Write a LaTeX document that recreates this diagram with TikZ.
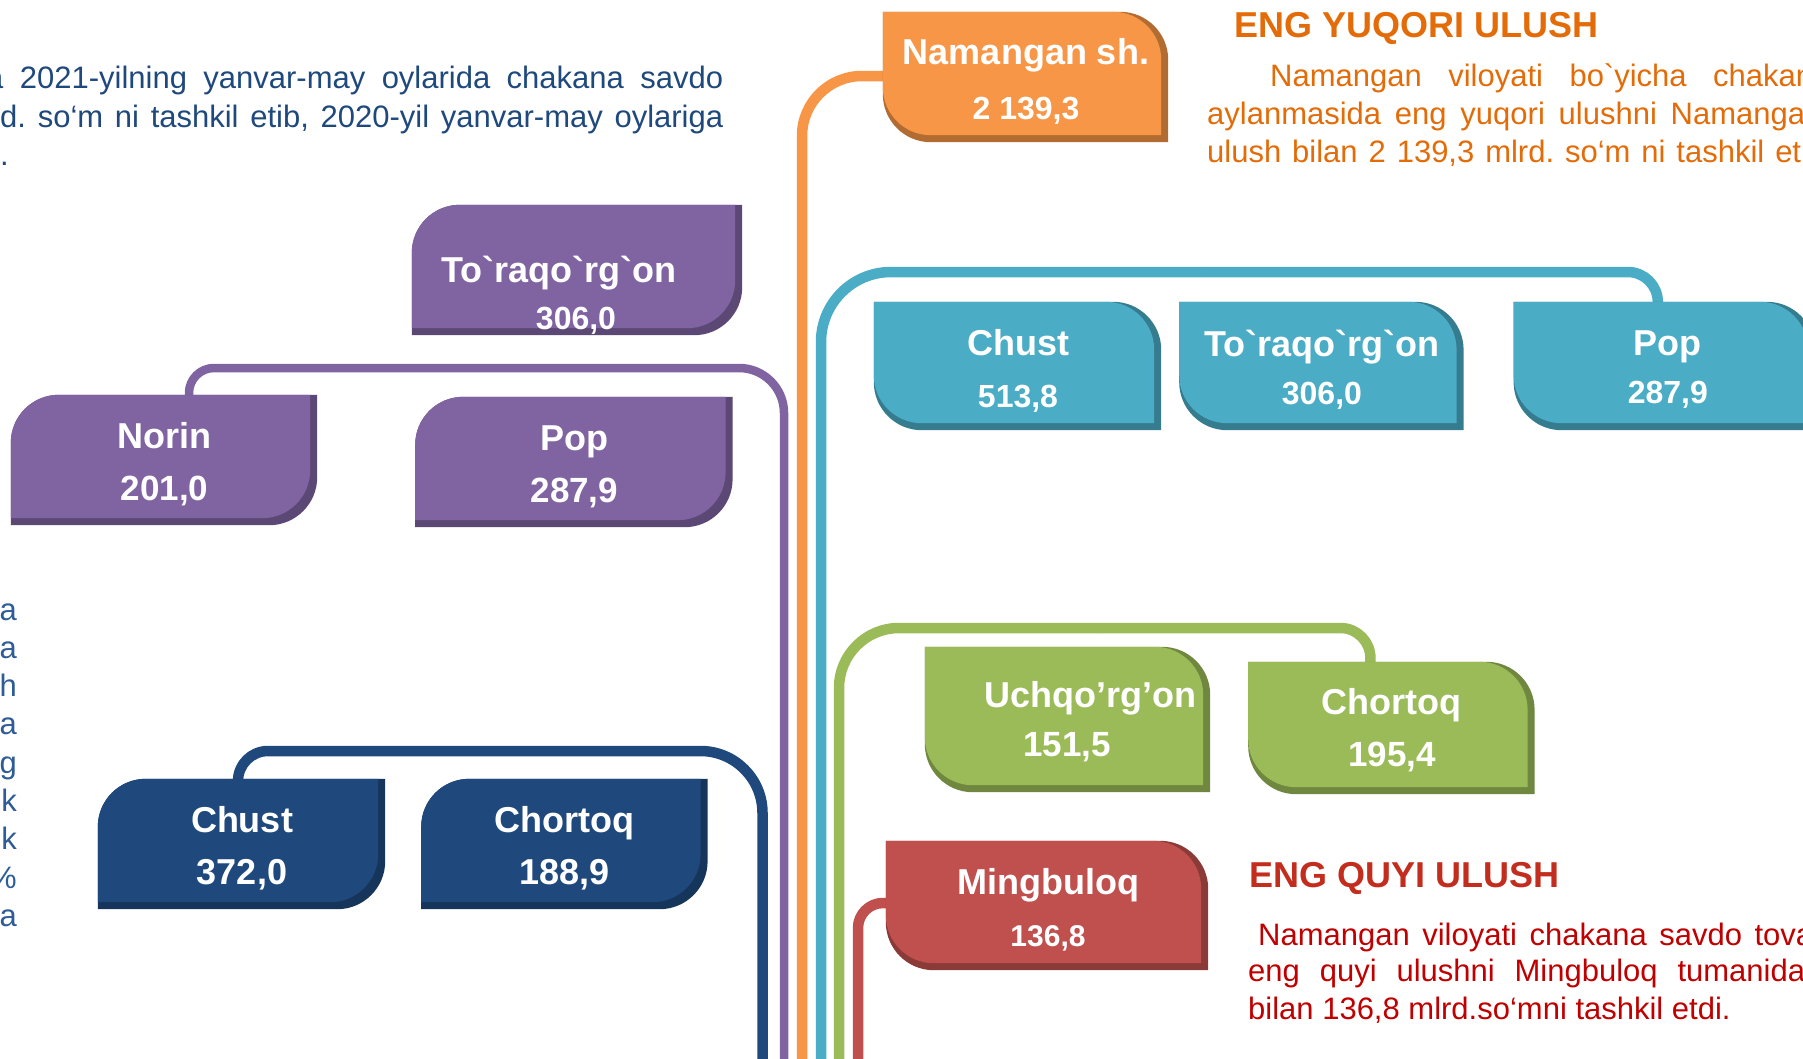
\documentclass[tikz,border=0pt]{standalone}
\usepackage{fontspec}
\newfontfamily\cardfont{Liberation Sans}
\usetikzlibrary{positioning, calc, backgrounds}
\frenchspacing

\definecolor{cardnavy}{RGB}{31,73,125}
\definecolor{cardpurp}{RGB}{128,100,162}
\definecolor{cardorng}{RGB}{247,150,70}
\definecolor{cardcyan}{RGB}{75,172,198}
\definecolor{cardgrn}{RGB}{155,187,89}
\definecolor{cardred}{RGB}{192,80,77}
\definecolor{introblue}{RGB}{31,73,125}
\definecolor{sideblue}{RGB}{46,92,150}
\definecolor{orngtext}{RGB}{227,108,9}
\definecolor{redtitle}{RGB}{195,45,30}
\definecolor{redtext}{RGB}{192,0,0}

\newcommand{\cardr}{48}
\newcommand{\cards}{7}
\newcommand{\cardval}[2][32]{{\fontsize{#1}{52}\selectfont #2}}

\begin{document}
\begin{tikzpicture}[x=1pt, y=-1pt,
    card/.style 2 args={rectangle, inner sep=0pt, minimum width=#1, minimum height=#2},
    cardtext/.style={text=white, align=center, inner sep=0pt, font=\cardfont\bfseries\fontsize{36}{52}\selectfont},
    para/.style={anchor=base west, inner sep=0pt, font=\cardfont\fontsize{31}{38}\selectfont},
    headline/.style={anchor=base west, inner sep=0pt, font=\cardfont\bfseries\fontsize{36}{40}\selectfont},
    side/.style={anchor=base east, inner sep=0pt, text=sideblue, font=\cardfont\fontsize{31}{38}\selectfont},
    link/.style={line width=10.5pt}
]
    \useasboundingbox (0,0) rectangle (1803,1058);

    % Top: city card
    \node[card={278pt}{123pt}] (naman) at (1022,73.5) {};
    \node[cardtext] (namanT) at ($(naman)+(4,8)$) {Namangan sh.\\[3pt]\cardval{2 139,3}};

    % Left: purple group
    \node[card={323pt}{123pt}] (torP) at (573.5,266.5) {};
    \node[cardtext] (torPT) at ($(torP)+(-14.5,28.5)$) {To`raqo`rg`on\\[-5pt]\hspace*{34pt}\cardval{306,0}};
    \node[card={299pt}{123pt}] (norin) at (160.5,456.5) {};
    \node[cardtext] (norinT) at ($(norin)+(4,8)$) {Norin\\\cardval[35]{201,0}};
    \node[card={310pt}{123pt}, right=105pt of norin, yshift=-2pt] (popP) {};
    \node[cardtext] (popPT) at ($(popP)+(4,8)$) {Pop\\\cardval[35]{287,9}};

    % Left: navy group
    \node[card={280pt}{123pt}] (chustN) at (238,840.5) {};
    \node[cardtext] (chustNT) at ($(chustN)+(4,8)$) {Chust\\\cardval[36]{372,0}};
    \node[card={279pt}{123pt}, right=43pt of chustN] (chortN) {};
    \node[cardtext] (chortNT) at ($(chortN)+(4,8)$) {Chortoq\\\cardval[36]{188,9}};

    % Right: cyan group
    \node[card={280pt}{121pt}] (chustC) at (1014,362.5) {};
    \node[cardtext] (chustCT) at ($(chustC)+(4,8)$) {Chust\\\cardval{513,8}};
    \node[card={277pt}{121pt}, right=25pt of chustC] (torC) {};
    \node[cardtext] (torCT) at ($(torC)+(4,7)$) {To`raqo`rg`on\\[-4pt]\cardval{306,0}};
    \node[card={294pt}{121pt}, right=57pt of torC] (popC) {};
    \node[cardtext] (popCT) at ($(popC)+(7,7)$) {Pop\\[-4pt]\cardval{287,9}};

    % Right: green group
    \node[card={278pt}{138pt}] (uchq) at (1064,716) {};
    \node[cardtext] (uchqT) at ($(uchq)+(26,5.5)$) {Uchqo’rg’on\\[-3pt]\hspace*{-46pt}\cardval[35]{151,5}};
    \node[card={279pt}{125pt}, right=45pt of uchq, yshift=-8.5pt] (chortG) {};
    \node[cardtext] (chortGT) at ($(chortG)+(4,6)$) {Chortoq\\\cardval[35]{195,4}};

    % Right: red card
    \node[card={315pt}{122pt}] (ming) at (1043.5,902) {};
    \node[cardtext] (mingT) at ($(ming)+(4.5,8)$) {Mingbuloq\\\cardval[30]{136,8}};

    % Texts
    \node[para, text=introblue] (introA) at (-14,88) {\makebox[737pt][s]{a 2021-yilning yanvar-may oylarida chakana savdo}};
    \node[para, text=introblue] (introB) at (0,127) {\makebox[723pt][s]{d. so‘m ni tashkil etib, 2020-yil yanvar-may oylariga}};
    \node[para, text=introblue] (introC) at (0,165) {.};
    \foreach \ch [count=\i from 0] in {a,a,h,a,g,k,k,\%,a}
        \node[side] (side\i) at (17,{620+38.3*\i}) {\ch};

    \node[headline, text=orngtext] (topTitle) at (1234,37) {ENG YUQORI ULUSH};
    \node[para, text=orngtext] (topA) at (1270,86) {\makebox[543pt][s]{Namangan viloyati bo`yicha chakan}};
    \node[para, text=orngtext] (topB) at (1207,124) {\makebox[598pt][s]{aylanmasida eng yuqori ulushni Namanga}};
    \node[para, text=orngtext] (topC) at (1207,162) {\makebox[594pt][s]{ulush bilan 2 139,3 mlrd. so‘m ni tashkil et}};

    \node[headline, text=redtitle] (lowTitle) at (1249,887) {ENG QUYI ULUSH};
    \node[para, text=redtext] (lowA) at (1258,945) {\makebox[555pt][s]{Namangan viloyati chakana savdo tova}};
    \node[para, text=redtext] (lowB) at (1248,981) {\makebox[557pt][s]{eng quyi ulushni Mingbuloq tumanida}};
    \node[para, text=redtext] (lowC) at (1248,1019) {bilan 136,8 mlrd.so‘mni tashkil etdi.};

    % Connectors
    \coordinate (navyMid) at (500,751);
    \coordinate (purpMid) at (480,368);
    \coordinate (cyanMid) at (1200,272);
    \coordinate (grnMid) at (1100,628);
    \coordinate (navyEnd) at (762.5,1070);
    \coordinate (purpEnd) at (784,1070);
    \coordinate (orngEnd) at (802,1070);
    \coordinate (cyanEnd) at (821,1070);
    \coordinate (grnEnd) at (839,1070);
    \coordinate (redEnd) at (858,1070);

    \begin{scope}[on background layer]
        \draw[link, cardnavy, rounded corners=30pt] (chustN.north) |- (navyMid);
        \draw[link, cardnavy, rounded corners=62pt] (navyMid) -| (navyEnd);
        \draw[link, cardpurp, line width=8.5pt, rounded corners=25pt] ([xshift=28.5pt]norin.north) |- (purpMid);
        \draw[link, cardpurp, line width=8.5pt, rounded corners=45pt] (purpMid) -| (purpEnd);
        \draw[link, cardorng, rounded corners=60pt] ([yshift=-2.5pt]naman.west) -| (orngEnd);
        \draw[link, cardcyan, rounded corners=30pt] ([xshift=-3pt]popC.north) |- (cyanMid);
        \draw[link, cardcyan, rounded corners=70pt] (cyanMid) -| (cyanEnd);
        \draw[link, cardgrn, rounded corners=30pt] ([xshift=-17.5pt]chortG.north) |- (grnMid);
        \draw[link, cardgrn, rounded corners=60pt] (grnMid) -| (grnEnd);
        \draw[link, cardred, rounded corners=25pt] ([yshift=-1pt]ming.west) -| (redEnd);

        % left cards: rounded top left and bottom right
        \foreach \nd/\col in {torP/cardpurp, norin/cardpurp, popP/cardpurp, chustN/cardnavy, chortN/cardnavy} {
            \fill[\col!72!black] ($(\nd.north west)+(0,\cardr)$) arc[start angle=180, end angle=270, radius=\cardr]
                -- ($(\nd.north east)+(\cards,0)$) -- ($(\nd.south east)+(\cards,\cards-\cardr)$)
                arc[start angle=0, end angle=90, radius=\cardr] -- ($(\nd.south west)+(0,\cards)$) -- cycle;
            \fill[\col] ($(\nd.north west)+(0,\cardr)$) arc[start angle=180, end angle=270, radius=\cardr]
                -- (\nd.north east) -- ($(\nd.south east)+(0,-\cardr)$)
                arc[start angle=0, end angle=90, radius=\cardr] -- (\nd.south west) -- cycle;
        }
        % right cards: rounded top right and bottom left
        \foreach \nd/\col in {naman/cardorng, chustC/cardcyan, torC/cardcyan, popC/cardcyan, uchq/cardgrn, chortG/cardgrn, ming/cardred} {
            \fill[\col!72!black] (\nd.north west) -- ($(\nd.north east)+(\cards-\cardr,0)$)
                arc[start angle=270, end angle=360, radius=\cardr] -- ($(\nd.south east)+(\cards,\cards)$)
                -- ($(\nd.south west)+(\cardr,\cards)$) arc[start angle=90, end angle=180, radius=\cardr] -- cycle;
            \fill[\col] (\nd.north west) -- ($(\nd.north east)+(-\cardr,0)$)
                arc[start angle=270, end angle=360, radius=\cardr] -- (\nd.south east)
                -- ($(\nd.south west)+(\cardr,0)$) arc[start angle=90, end angle=180, radius=\cardr] -- cycle;
        }
    \end{scope}
\end{tikzpicture}
\end{document}
